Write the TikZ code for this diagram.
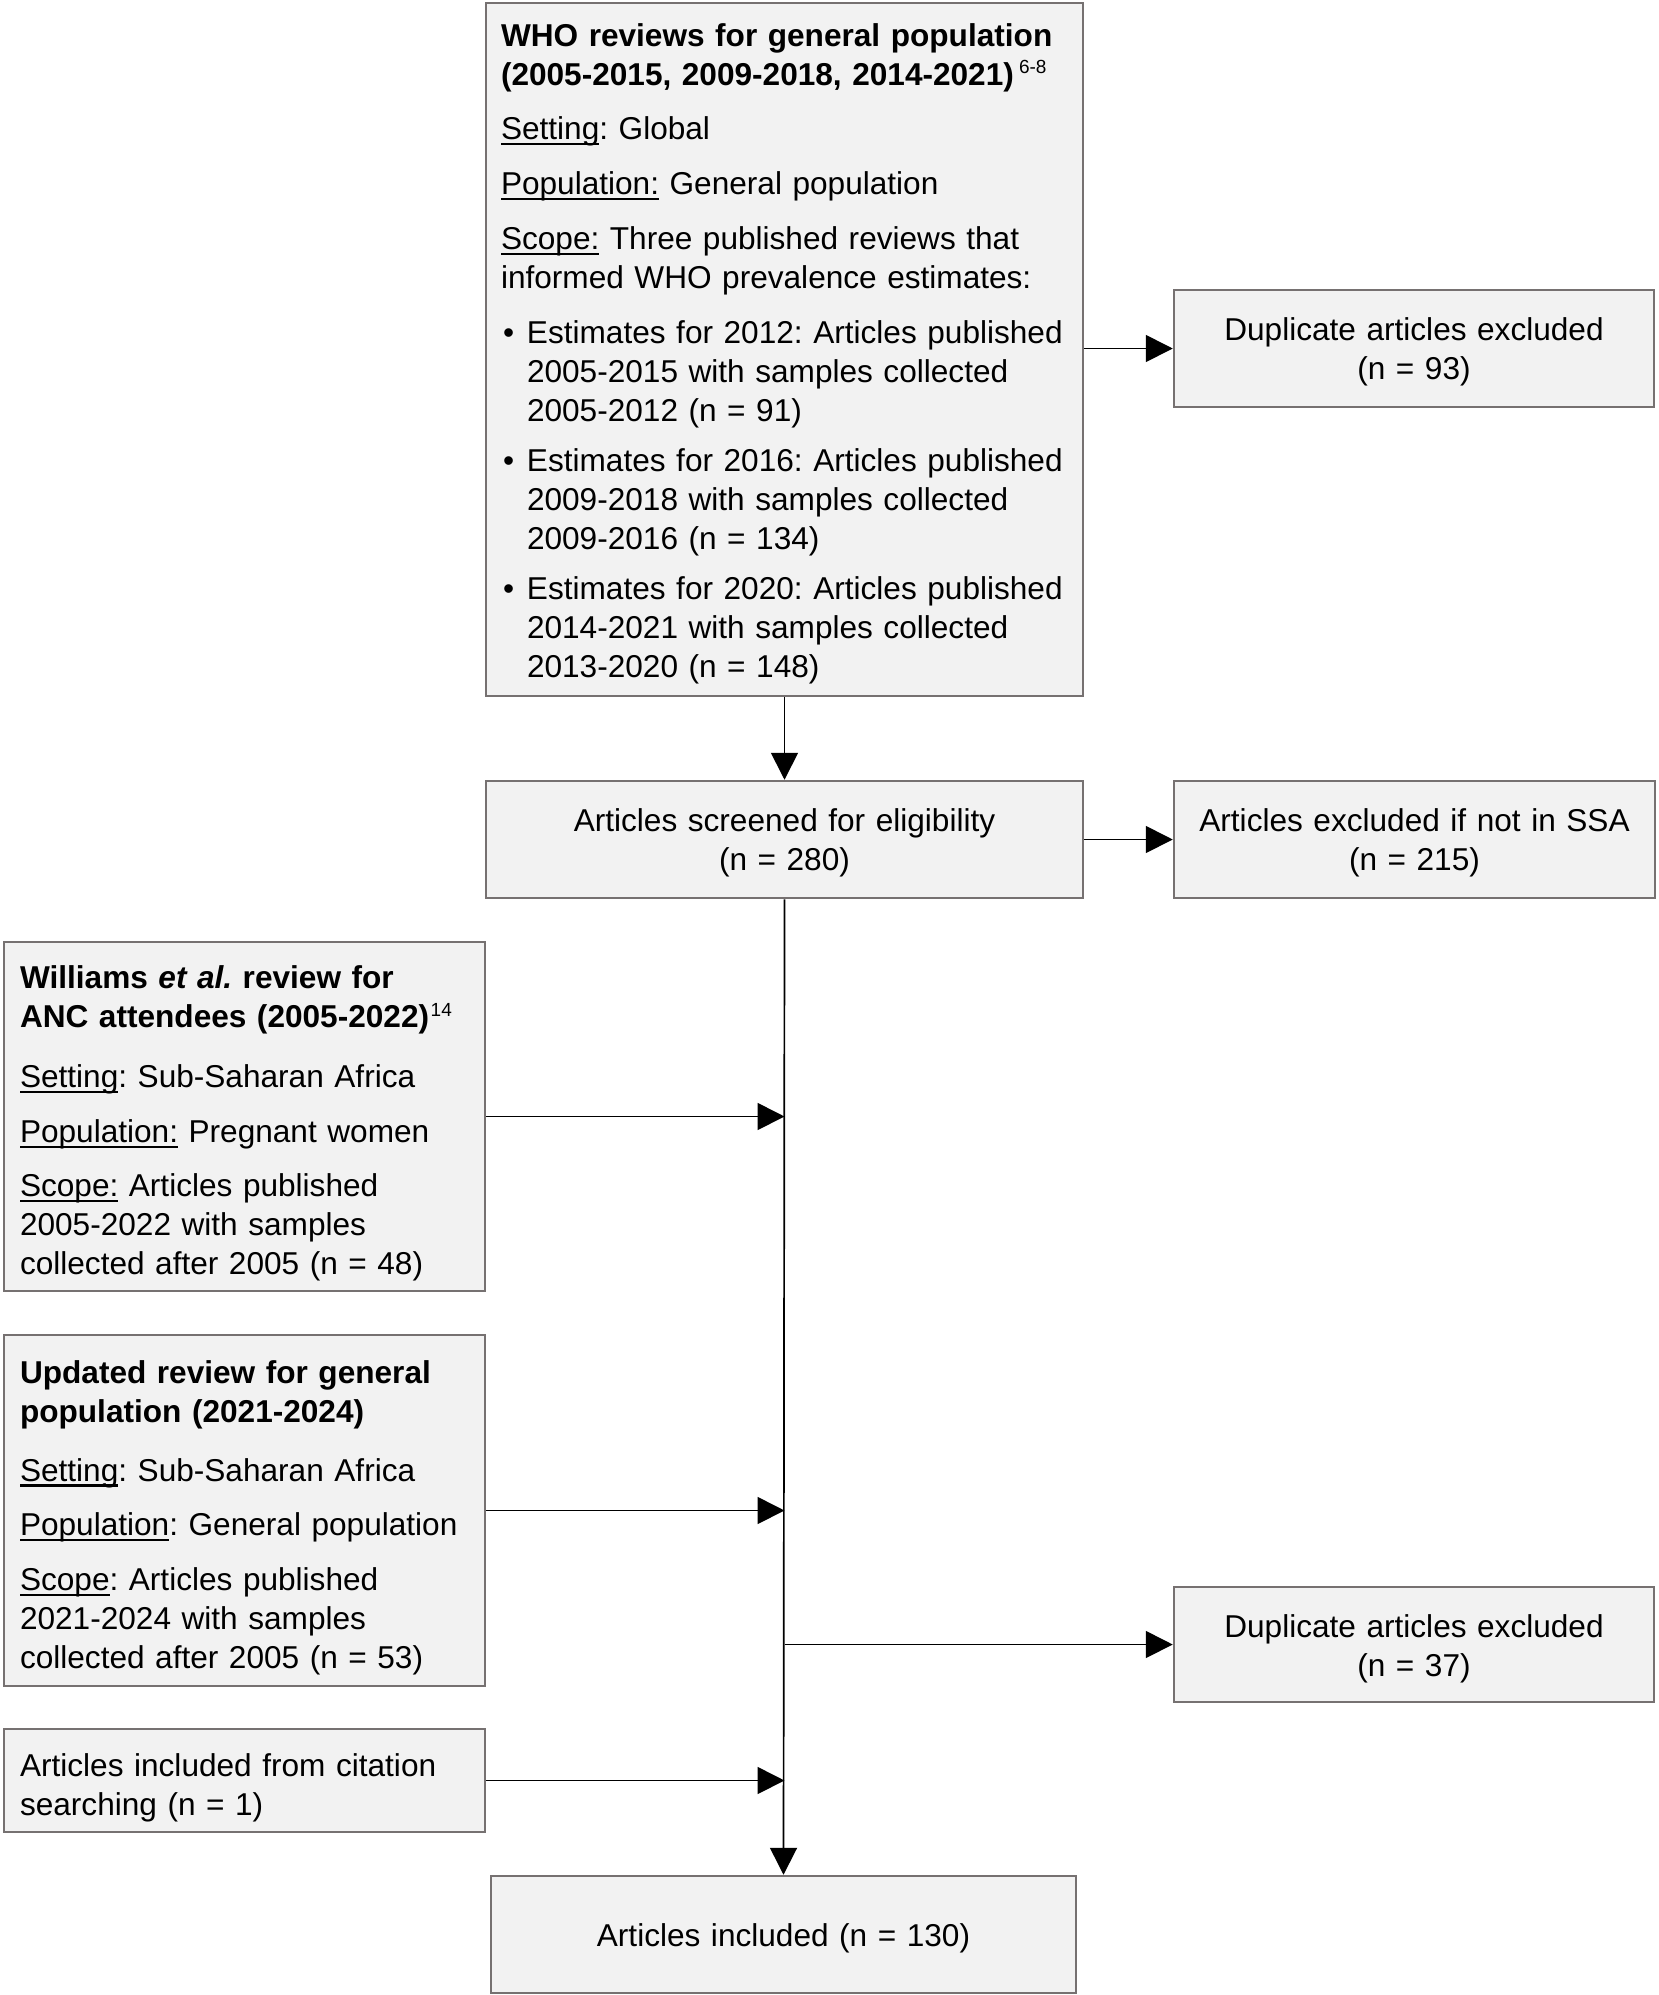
\documentclass[tikz,border=0pt]{standalone}
\usepackage{fontspec}
\setmainfont{Liberation Sans}
\usetikzlibrary{arrows.meta}
\definecolor{boxfill}{HTML}{F2F2F2}
\definecolor{boxline}{HTML}{767171}
\frenchspacing
% underlined field label
\newcommand\undl[1]{\leavevmode\setbox0=\hbox{#1}\rlap{\rule[-5.5pt]{\wd0}{2.2pt}}\box0\relax}
% reference number set above the line
\newcommand\supref[1]{\raisebox{11.5pt}{\fontsize{19}{19}\selectfont\mdseries #1}}
% bullet and continuation indent
\newcommand\bul{\leavevmode\hspace*{2pt}\makebox[24pt][l]{\textbullet}}
\newcommand\bulc{\leavevmode\hspace*{26pt}}
\newcommand\boxfont{\fontsize{31.6}{39}\selectfont}
\begin{document}
\hyphenpenalty=10000
\exhyphenpenalty=10000
\begin{tikzpicture}[x=1pt,y=-1pt,
  box/.style={draw=boxline, fill=boxfill, line width=2.5pt, inner xsep=14.8pt, inner ysep=0pt,
    font=\boxfont},
  % lowers the text block inside its box by (#1 - 23)/2
  drop/.style={execute at begin node={\rule{0pt}{#1}}},
  lbox/.style={box, align=left, inner xsep=15.8pt, drop=37pt},
  cbox/.style={box, align=center, drop=29pt},
  arrow/.style={line width=1.7pt, -{Triangle[length=27pt,width=27pt]}}]
\useasboundingbox (0,0) rectangle (1658,1995);

\node[box, align=left, drop=31.6pt, minimum width=597pt, minimum height=693pt, text width=567pt] (who) at (784.5,349.5) {%
\textbf{WHO reviews for general population}\\
\textbf{(2005-2015, 2009-2018, 2014-2021)}\hspace{5pt}\supref{6-8}\\[15.7pt]
\undl{Setting}: Global\\[15.7pt]
\undl{Population:} General population\\[15.7pt]
\undl{Scope:} Three published reviews that\\
informed WHO prevalence estimates:\\[16.5pt]
\bul Estimates for 2012: Articles published\\
\bulc 2005-2015 with samples collected\\
\bulc 2005-2012 (n = 91)\\[11pt]
\bul Estimates for 2016: Articles published\\
\bulc 2009-2018 with samples collected\\
\bulc 2009-2016 (n = 134)\\[11pt]
\bul Estimates for 2020: Articles published\\
\bulc 2014-2021 with samples collected\\
\bulc 2013-2020 (n = 148)};

\node[cbox, minimum width=480pt, minimum height=117pt, text width=450pt] (dupa) at (1414,348.5)
  {Duplicate articles excluded\\(n = 93)};

\node[cbox, minimum width=597pt, minimum height=117pt, text width=567pt] (scr) at (784.5,839.5)
  {Articles screened for eligibility\\(n = 280)};

\node[cbox, minimum width=481pt, minimum height=117pt, text width=451pt] (ssa) at (1414.5,839.5)
  {Articles excluded if not in SSA\\(n = 215)};

\node[lbox, minimum width=481pt, minimum height=349pt, text width=449pt] (will) at (244.5,1116.5) {%
\textbf{Williams \textit{et al.} review for}\\
\textbf{ANC attendees (2005-2022)}\hspace{1.5pt}\supref{14}\\[21pt]
\undl{Setting}: Sub-Saharan Africa\\[15.7pt]
\undl{Population:} Pregnant women\\[15.7pt]
\undl{Scope:} Articles published\\
2005-2022 with samples\\
collected after 2005 (n = 48)};

\node[lbox, minimum width=481pt, minimum height=351pt, text width=449pt] (upd) at (244.5,1510.5) {%
\textbf{Updated review for general}\\
\textbf{population (2021-2024)}\\[20pt]
\undl{Setting}: Sub-Saharan Africa\\[15.7pt]
\undl{Population}: General population\\[15.7pt]
\undl{Scope}: Articles published\\
2021-2024 with samples\\
collected after 2005 (n = 53)};

\node[cbox, drop=31pt, minimum width=480pt, minimum height=115pt, text width=450pt] (dupb) at (1414,1644.5)
  {Duplicate articles excluded\\(n = 37)};

\node[lbox, minimum width=481pt, minimum height=103pt, text width=449pt] (cit) at (244.5,1780.5)
  {Articles included from citation\\searching (n = 1)};

\node[cbox, drop=31pt, minimum width=585pt, minimum height=117pt, text width=555pt] (inc) at (783.5,1934.5)
  {Articles included (n = 130)};

% connectors
\draw[arrow] (who.south) -- (scr.north);
\draw[arrow] (who.east |- dupa.west) -- (dupa.west);
\draw[arrow] (scr.east) -- (ssa.west);
\draw[arrow] (scr.south) -- (inc.north);
\draw[arrow] (will.east) -- (will.east -| scr.south);
\draw[arrow] (upd.east) -- (upd.east -| scr.south);
\draw[arrow] (scr.south |- dupb.west) -- (dupb.west);
\draw[arrow] (cit.east) -- (cit.east -| scr.south);
\end{tikzpicture}
\end{document}
